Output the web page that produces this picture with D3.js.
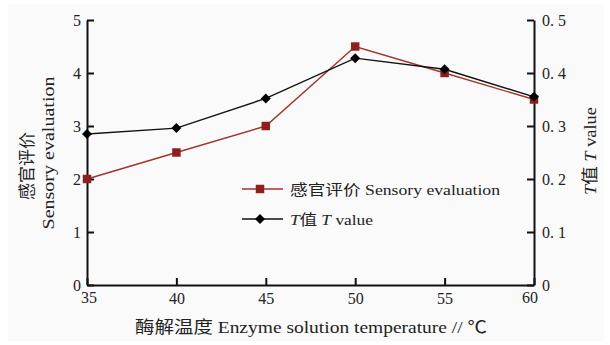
<!DOCTYPE html>
<html>
<head>
<meta charset="utf-8">
<script src="https://cdn.jsdelivr.net/npm/d3@7"></script>
<style>
  body { margin: 0; background: #fff; }
  text { font-family: "Liberation Serif", "Noto Sans CJK SC", serif; fill: #222; }
</style>
</head>
<body>
<svg id="chart" width="610" height="345"></svg>
<script>
const temps = [35, 40, 45, 50, 55, 60]
const sensory = [2, 2.5, 3, 4.5, 4, 3.5]
const tValue = [0.285, 0.296, 0.352, 0.428, 0.407, 0.355]
const leftTicks = [0, 1, 2, 3, 4, 5]
const rightTicks = [0, 0.1, 0.2, 0.3, 0.4, 0.5]
const rightTickLabels = ['0', '0. 1', '0. 2', '0. 3', '0. 4', '0. 5']

const svg = d3.select('#chart')
svg.append('rect').attr('x', 8).attr('y', 4).attr('width', 596).attr('height', 337).attr('fill', '#fafafa')

const x = d3.scaleLinear().domain([35, 60]).range([87, 534])
const yL = d3.scaleLinear().domain([0, 5]).range([285, 20])
const yR = d3.scaleLinear().domain([0, 0.5]).range([285, 20])

// axes, ticks point inward
const axB = svg.append('g').attr('transform', 'translate(0,285)')
  .call(d3.axisBottom(x).tickValues(temps).tickSize(-7).tickSizeOuter(0).tickFormat(d => d === 35 || d === 60 ? '' : d))
const axL = svg.append('g').attr('transform', 'translate(87,0)')
  .call(d3.axisLeft(yL).tickValues(leftTicks).tickSize(-7).tickSizeOuter(0).tickFormat(d3.format('d')))
const axR = svg.append('g').attr('transform', 'translate(534,0)')
  .call(d3.axisRight(yR).tickValues(rightTicks).tickSize(-7).tickSizeOuter(0).tickFormat((d, i) => rightTickLabels[i]))

;[axB, axL, axR].forEach(a => {
  a.select('.domain').attr('stroke', '#111').attr('stroke-width', 2)
  a.selectAll('.tick line').attr('stroke', '#111').attr('stroke-width', 2)
  a.selectAll('.tick text').style('font-size', '16px').attr('fill', '#333')
    .style('font-family', '"Liberation Serif", serif')
})
axB.selectAll('.tick text').attr('y', 8)
axL.selectAll('.tick text').attr('x', -6)
axR.selectAll('.tick text').attr('x', 8)
// corner labels 35 / 60 sit just below the axis ends
svg.append('text').attr('x', x(35) + 2).attr('y', 303).attr('text-anchor', 'middle')
  .style('font-size', '16px').attr('fill', '#333').text('35')
svg.append('text').attr('x', x(60) - 4).attr('y', 303).attr('text-anchor', 'middle')
  .style('font-size', '16px').attr('fill', '#333').text('60')

// lines
const lineS = d3.line().x((d, i) => x(temps[i])).y(d => yL(d))
const lineT = d3.line().x((d, i) => x(temps[i])).y(d => yR(d))
const red = '#8e1f1f'

svg.append('path').datum(sensory).attr('d', lineS).attr('fill', 'none')
  .attr('stroke', '#a3342c').attr('stroke-width', 1.4)
svg.append('path').datum(tValue).attr('d', lineT).attr('fill', 'none')
  .attr('stroke', '#111').attr('stroke-width', 1.4)

const sq = d3.symbol().type(d3.symbolSquare).size(72)
const dia = d3.symbol().type(d3.symbolSquare).size(50)

svg.selectAll('.s').data(sensory).enter().append('path')
  .attr('transform', (d, i) => `translate(${x(temps[i])},${yL(d)})`)
  .attr('d', sq).attr('fill', red)
svg.selectAll('.t').data(tValue).enter().append('path')
  .attr('transform', (d, i) => `translate(${x(temps[i])},${yR(d)}) rotate(45)`)
  .attr('d', dia).attr('fill', '#000')

// legend
const leg = svg.append('g')
leg.append('line').attr('x1', 242).attr('x2', 283).attr('y1', 189).attr('y2', 189).attr('stroke', '#a3342c').attr('stroke-width', 1.4)
leg.append('path').attr('transform', 'translate(260,189)').attr('d', sq).attr('fill', red)
leg.append('line').attr('x1', 242).attr('x2', 283).attr('y1', 219).attr('y2', 219).attr('stroke', '#111').attr('stroke-width', 1.4)
leg.append('path').attr('transform', 'translate(260,219) rotate(45)').attr('d', dia).attr('fill', '#000')

const l1 = leg.append('text').attr('x', 290).attr('y', 195).style('font-size', '15px')
l1.append('tspan').text('感官评价 ')
l1.append('tspan').text('Sensory evaluation')
l1.attr('textLength', 210).attr('lengthAdjust', 'spacingAndGlyphs')
const l2 = leg.append('text').attr('x', 290).attr('y', 225).style('font-size', '15px')
l2.append('tspan').style('font-style', 'italic').text('T')
l2.append('tspan').text('值 ')
l2.append('tspan').style('font-style', 'italic').text('T')
l2.append('tspan').text(' value')
l2.attr('textLength', 83).attr('lengthAdjust', 'spacingAndGlyphs')

// axis titles
svg.append('text').attr('x', 311).attr('y', 333).attr('text-anchor', 'middle')
  .style('font-size', '17px').attr('textLength', 352).attr('lengthAdjust', 'spacingAndGlyphs')
  .text('酶解温度 Enzyme solution temperature // ℃')

svg.append('text').attr('transform', 'translate(33,166) rotate(-90)').attr('text-anchor', 'middle')
  .style('font-size', '17px').attr('textLength', 68).attr('lengthAdjust', 'spacingAndGlyphs')
  .text('感官评价')
svg.append('text').attr('transform', 'translate(54,153) rotate(-90)').attr('text-anchor', 'middle')
  .style('font-size', '17px').attr('textLength', 153).attr('lengthAdjust', 'spacingAndGlyphs')
  .text('Sensory evaluation')

const rt = svg.append('text').attr('transform', 'translate(596,151) rotate(-90)').attr('text-anchor', 'middle')
  .style('font-size', '17px')
rt.append('tspan').style('font-style', 'italic').text('T')
rt.append('tspan').text('值 ')
rt.append('tspan').style('font-style', 'italic').text('T')
rt.append('tspan').text(' value')
rt.attr('textLength', 88).attr('lengthAdjust', 'spacingAndGlyphs')
</script>
</body>
</html>
